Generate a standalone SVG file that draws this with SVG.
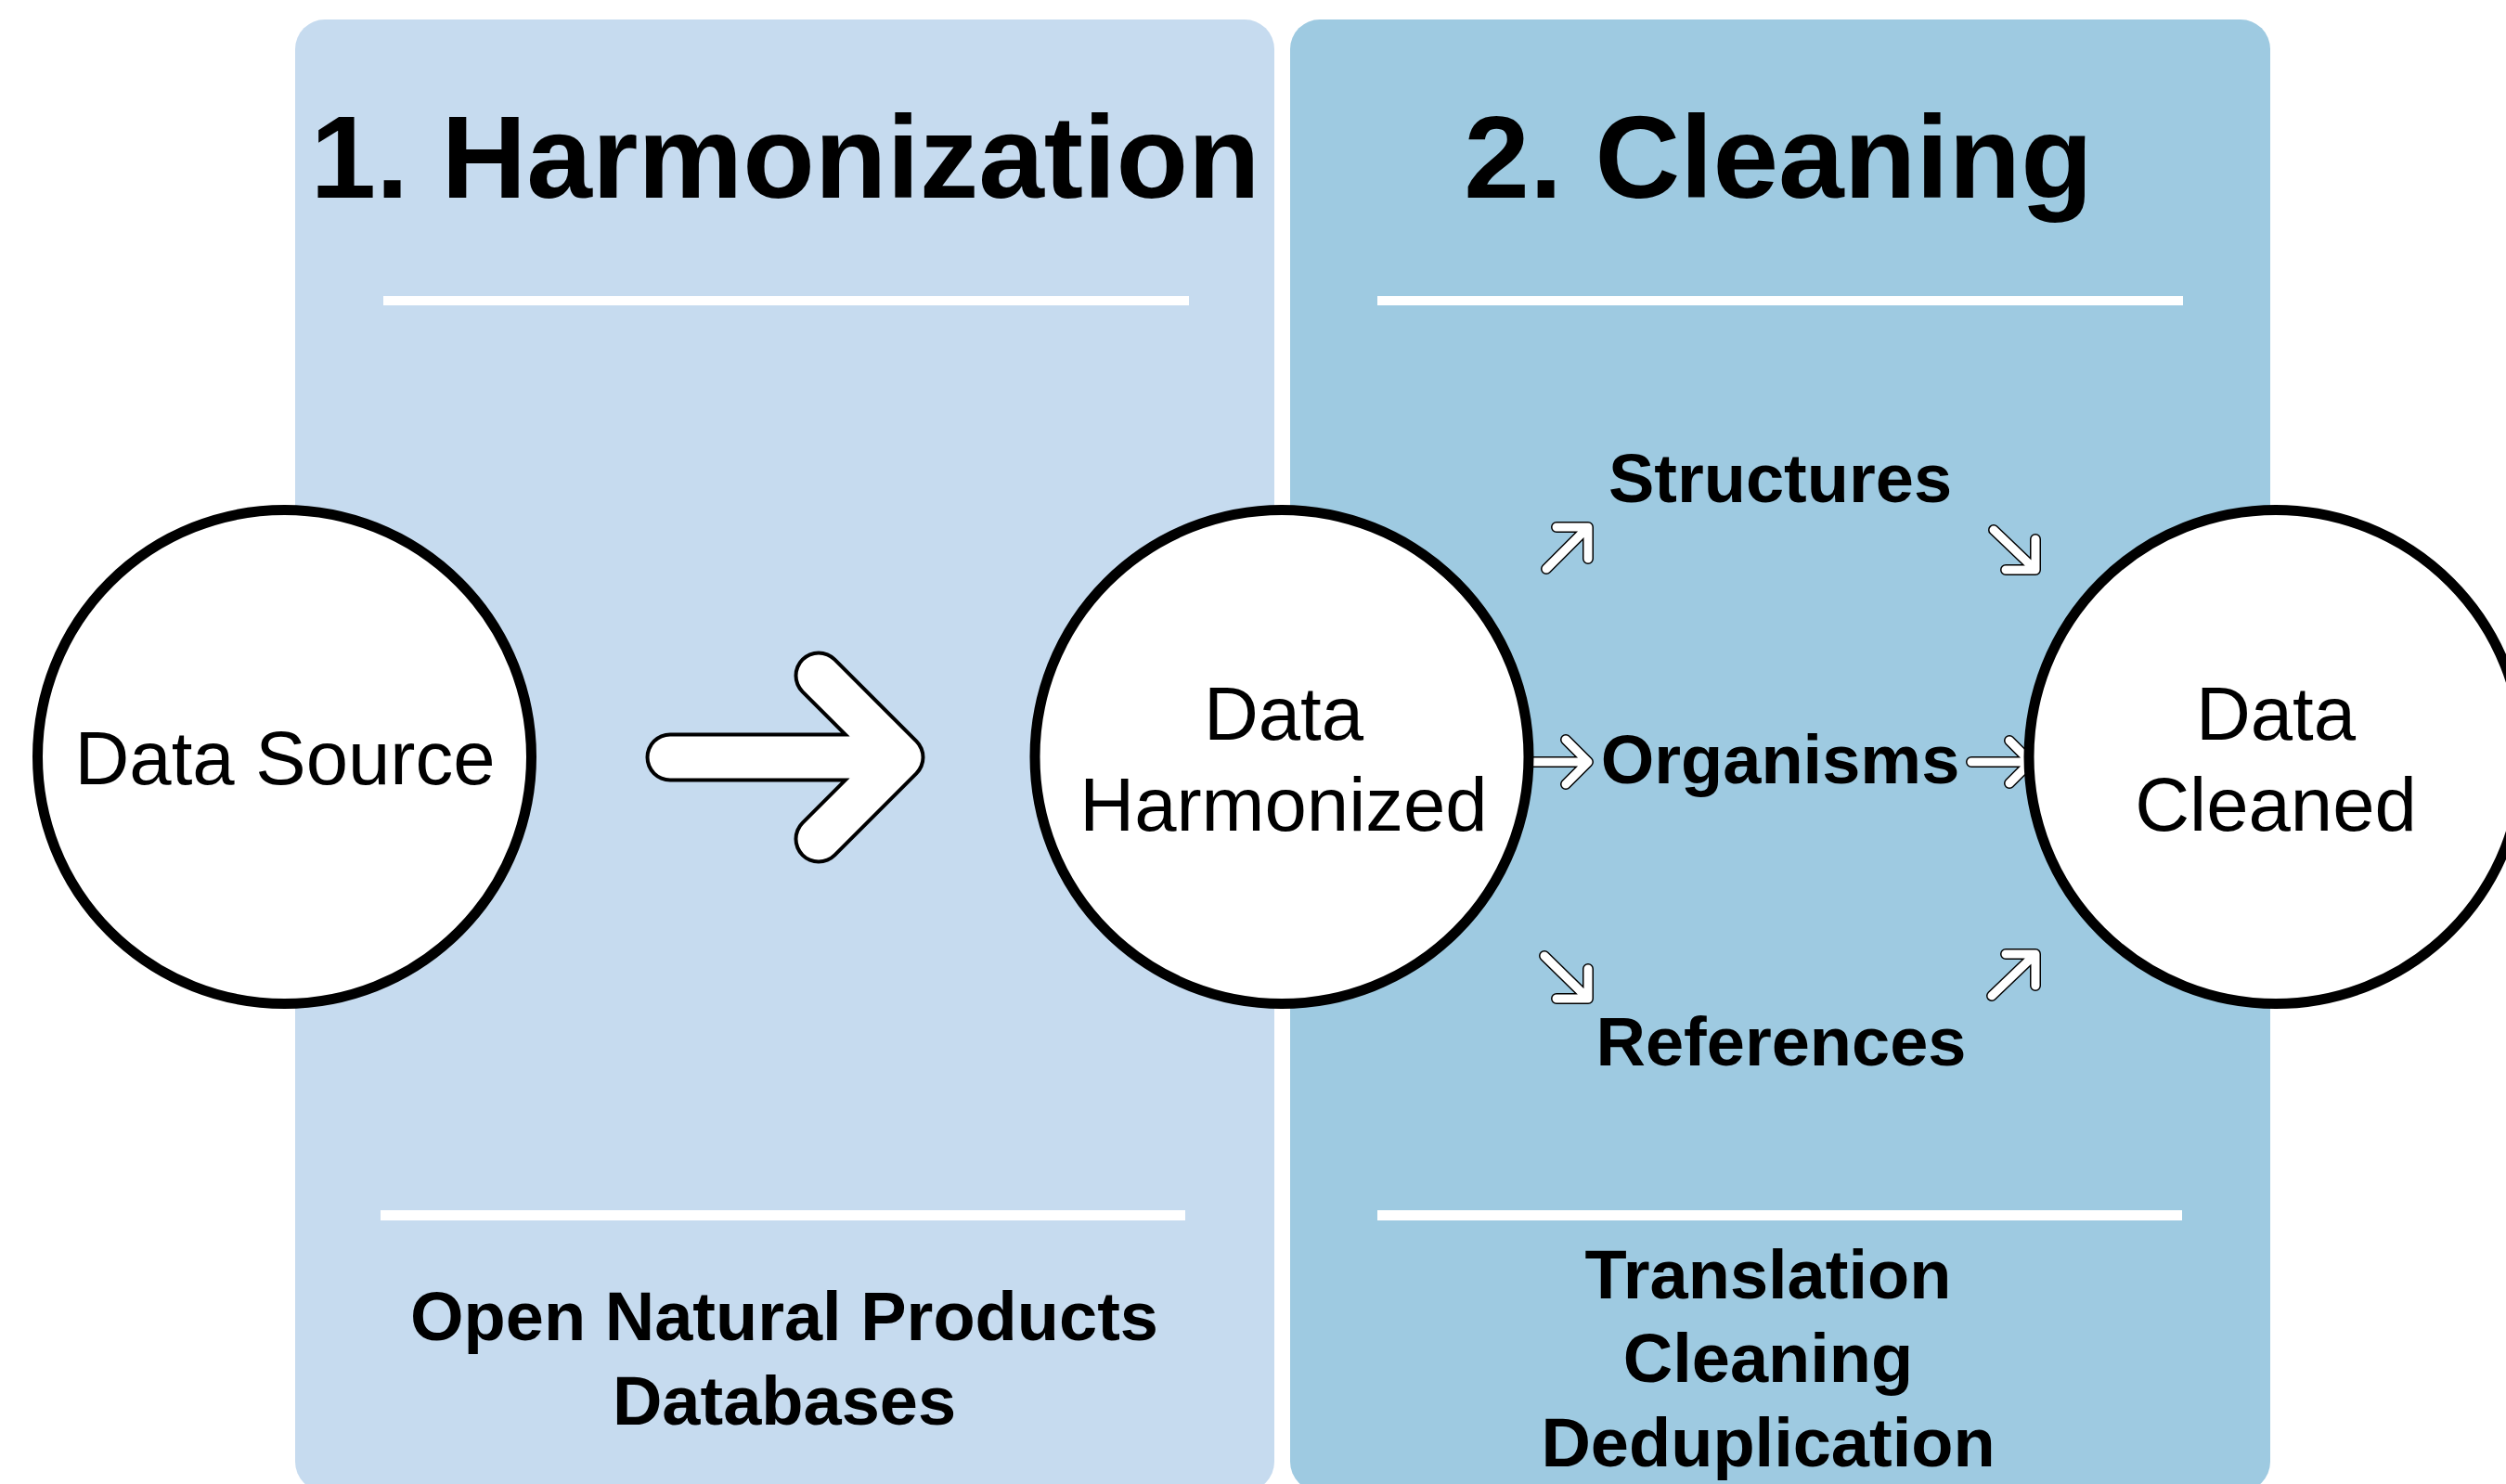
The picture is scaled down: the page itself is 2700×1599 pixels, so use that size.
<svg xmlns="http://www.w3.org/2000/svg" width="2700" height="1599" viewBox="0 0 2700 1599">
  <style>
    .t { font-family: "Liberation Sans", Arial, Helvetica, sans-serif; fill: #000; text-anchor: middle; }
    .title { font-size: 127px; font-weight: bold; }
    .lbl { font-size: 74px; font-weight: bold; }
    .node { font-size: 81.5px; }
    .sep { fill: #ffffff; }
    .circ { fill: #ffffff; stroke: #000; stroke-width: 11; }
    .aout { fill: none; stroke: #000; stroke-linecap: round; stroke-linejoin: round; }
    .ain { fill: none; stroke: #fff; stroke-linecap: round; stroke-linejoin: round; }
    .small.aout { stroke-width: 12; }
    .small.ain { stroke-width: 9; }
  </style>
  <rect width="2700" height="1599" fill="#ffffff"/>

  <g id="panel-harmonization">
    <rect x="318" y="21" width="1055" height="1586" rx="32" ry="32" fill="#C6DBEF"/>
    <text class="t title" x="846" y="213">1. Harmonization</text>
    <rect class="sep" x="413" y="319" width="868" height="10"/>
    <rect class="sep" x="410" y="1304" width="867" height="11"/>
    <text class="t lbl" x="845" y="1444" font-size="75.5">Open Natural Products</text>
    <text class="t lbl" x="845" y="1535" font-size="75.5">Databases</text>
  </g>

  <g id="panel-cleaning">
    <rect x="1390" y="21" width="1056" height="1586" rx="32" ry="32" fill="#9ECAE1"/>
    <text class="t title" x="1916" y="213">2. Cleaning</text>
    <rect class="sep" x="1484" y="319" width="868" height="10"/>
    <rect class="sep" x="1484" y="1304" width="867" height="11"/>
    <text class="t lbl" x="1905" y="1399">Translation</text>
    <text class="t lbl" x="1905" y="1489">Cleaning</text>
    <text class="t lbl" x="1905" y="1580">Deduplication</text>
  </g>

  <g id="connectors">
    <g id="big-arrow">
      <path class="aout" stroke-width="53" d="M722,816 H970 M882,728 L970,816 L882,904"/>
      <path class="ain" stroke-width="45" d="M722,816 H970 M882,728 L970,816 L882,904"/>
    </g>
    <g id="arrow-to-structures">
      <path class="small aout" d="M1666,613 L1711,568 M1677,568 L1711,568 L1711,602"/>
      <path class="small ain" d="M1666,613 L1711,568 M1677,568 L1711,568 L1711,602"/>
    </g>
    <g id="arrow-from-structures">
      <path class="small aout" d="M2148,571 L2193,614 M2161,614 L2193,614 L2193,581"/>
      <path class="small ain" d="M2148,571 L2193,614 M2161,614 L2193,614 L2193,581"/>
    </g>
    <g id="arrow-to-organisms">
      <path class="small aout" d="M1650,821 H1711 M1687,797 L1711,821 L1687,845"/>
      <path class="small ain" d="M1650,821 H1711 M1687,797 L1711,821 L1687,845"/>
    </g>
    <g id="arrow-from-organisms">
      <path class="small aout" d="M2124,821 H2188 M2165,798 L2188,821 L2165,844"/>
      <path class="small ain" d="M2124,821 H2188 M2165,798 L2188,821 L2165,844"/>
    </g>
    <g id="arrow-to-references">
      <path class="small aout" d="M1664,1030 L1711,1076 M1677,1076 L1711,1076 L1711,1044"/>
      <path class="small ain" d="M1664,1030 L1711,1076 M1677,1076 L1711,1076 L1711,1044"/>
    </g>
    <g id="arrow-from-references">
      <path class="small aout" d="M2146,1073 L2193,1028 M2161,1028 L2193,1028 L2193,1062"/>
      <path class="small ain" d="M2146,1073 L2193,1028 M2161,1028 L2193,1028 L2193,1062"/>
    </g>
  </g>

  <g id="node-data-source">
    <circle class="circ" cx="306.5" cy="815.5" r="266"/>
    <text class="t node" x="307" y="845">Data Source</text>
  </g>

  <g id="node-data-harmonized">
    <circle class="circ" cx="1381" cy="815.5" r="266"/>
    <text class="t node" x="1383" y="797">Data</text>
    <text class="t node" x="1383" y="895">Harmonized</text>
  </g>

  <g id="node-data-cleaned">
    <circle class="circ" cx="2452" cy="815.5" r="266"/>
    <text class="t node" x="2452" y="797">Data</text>
    <text class="t node" x="2452" y="895">Cleaned</text>
  </g>

  <g id="node-structures">
    <text class="t lbl" x="1918" y="541">Structures</text>
  </g>
  <g id="node-organisms">
    <text class="t lbl" x="1918" y="844">Organisms</text>
  </g>
  <g id="node-references">
    <text class="t lbl" x="1919" y="1148">References</text>
  </g>
</svg>
